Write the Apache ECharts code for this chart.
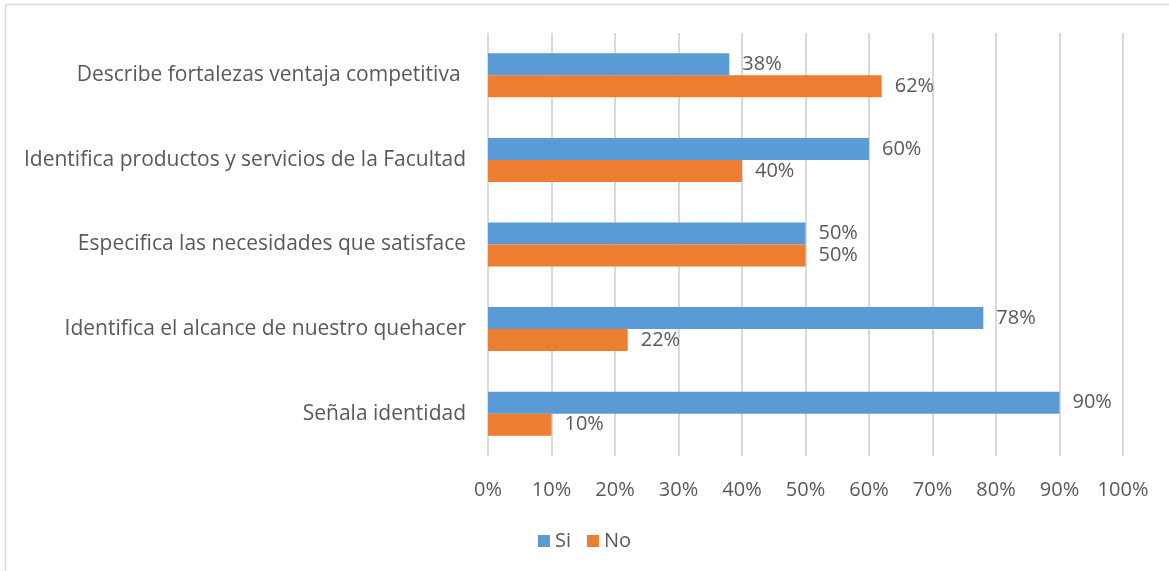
<!DOCTYPE html>
<html>
<head>
<meta charset="utf-8">
<script src="https://cdn.jsdelivr.net/npm/echarts@6/dist/echarts.min.js"></script>
<style>
  html, body { margin: 0; padding: 0; background: #fff; }
  #chart { width: 1169px; height: 571px; }
</style>
</head>
<body>
<div id="chart"></div>
<script>
// categorias de abajo hacia arriba
const categories = [
  'Señala identidad',
  'Identifica el alcance de nuestro quehacer',
  'Especifica las necesidades que satisface',
  'Identifica productos y servicios de la Facultad',
  'Describe fortalezas ventaja competitiva '
];
const siValues = [90, 78, 50, 60, 38];
const noValues = [10, 22, 50, 40, 62];
const xTicks = [0, 10, 20, 30, 40, 50, 60, 70, 80, 90, 100];

const fontFamily = '"Open Sans", "Noto Sans", sans-serif';
const textColor = '#595959';

const chart = echarts.init(document.getElementById('chart'));

const labelOpt = {
  show: true,
  position: 'right',
  distance: 13,
  color: textColor,
  fontSize: 20,
  fontFamily: fontFamily,
  formatter: p => p.value + '%'
};

chart.setOption({
  animation: false,
  grid: { left: 488, right: 46, top: 33, bottom: 115, containLabel: false },
  legend: {
    data: ['Si', 'No'],
    bottom: 15,
    left: 'center',
    itemWidth: 12,
    itemHeight: 12,
    itemGap: 16,
    icon: 'rect',
    textStyle: { color: textColor, fontSize: 20, fontFamily: fontFamily }
  },
  xAxis: {
    type: 'value',
    min: 0,
    max: 100,
    interval: 10,
    axisLine: { show: false },
    axisTick: { show: false },
    splitLine: { show: true, lineStyle: { color: '#d9d9d9', width: 2 } },
    axisLabel: {
      color: textColor,
      fontSize: 20,
      fontFamily: fontFamily,
      margin: 24,
      formatter: v => (xTicks.indexOf(v) >= 0 ? v + '%' : '')
    }
  },
  yAxis: {
    type: 'category',
    data: categories,
    axisLine: { show: false },
    axisTick: { show: false },
    axisLabel: { color: textColor, fontSize: 21, fontFamily: fontFamily, margin: 22 }
  },
  series: [
    {
      name: 'Si',
      type: 'bar',
      data: siValues,
      barGap: '0%',
      barCategoryGap: '48%',
      itemStyle: { color: '#5b9bd5' },
      label: labelOpt
    },
    {
      name: 'No',
      type: 'bar',
      data: noValues,
      barGap: '0%',
      barCategoryGap: '48%',
      itemStyle: { color: '#ed7d31' },
      label: labelOpt
    }
  ],
  graphic: [
    { type: 'line', shape: { x1: 5.5, y1: 4.5, x2: 1169, y2: 4.5 }, style: { stroke: '#d9d9d9', lineWidth: 1.5 } },
    { type: 'line', shape: { x1: 5.5, y1: 4.5, x2: 5.5, y2: 571 }, style: { stroke: '#d9d9d9', lineWidth: 1.5 } }
  ]
});

window.addEventListener('resize', () => chart.resize());
</script>
</body>
</html>
